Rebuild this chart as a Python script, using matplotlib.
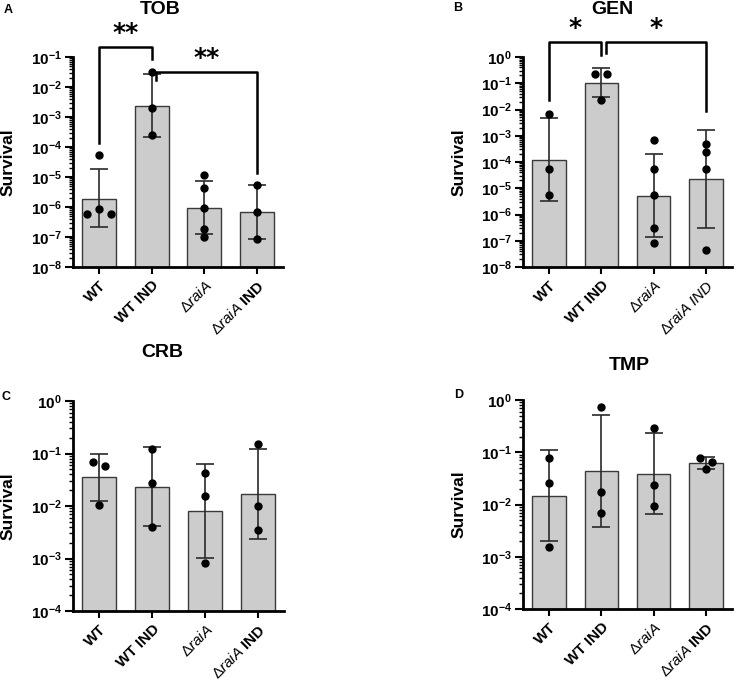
import numpy as np
import matplotlib
matplotlib.use("Agg")
import matplotlib.pyplot as plt
from matplotlib.ticker import LogLocator, FuncFormatter, NullFormatter

plt.rcParams['font.family'] = ['Liberation Sans', 'DejaVu Sans']
plt.rcParams['mathtext.fontset'] = 'custom'
plt.rcParams['mathtext.rm'] = 'Liberation Sans'
plt.rcParams['mathtext.it'] = 'Liberation Sans:italic'
plt.rcParams['mathtext.bf'] = 'Liberation Sans:bold'

# group labels
labels_bold = ['WT', 'WT IND', r'$\mathit{\Delta raiA}$', r'$\mathit{\Delta raiA}$ IND']
labels_ital = ['WT', 'WT IND', r'$\mathit{\Delta raiA}$', r'$\mathit{\Delta raiA\ IND}$']

# TOB (panel A)
tob_mean = [1.9e-6, 2.4e-3, 9.3e-7, 6.7e-7]
tob_lo = [2.1e-7, 2.2e-4, 1.3e-7, 8.9e-8]
tob_hi = [1.8e-5, 2.8e-2, 7.6e-6, 5.5e-6]
tob_pts = [[5.5e-5, 5.9e-7, 8.5e-7, 5.9e-7],
           [3.2e-2, 1.96e-3, 2.6e-4],
           [1.2e-5, 4.2e-6, 9.6e-7, 1.8e-7, 1.0e-7],
           [5.5e-6, 6.7e-7, 8.9e-8]]

# GEN (panel B)
gen_mean = [1.2e-4, 0.10, 5.0e-6, 2.2e-5]
gen_lo = [3.2e-6, 0.029, 1.35e-7, 3.1e-7]
gen_hi = [4.9e-3, 0.39, 2.1e-4, 1.7e-3]
gen_pts = [[7.0e-3, 5.2e-5, 5.3e-6],
           [0.23, 0.23, 0.023],
           [6.6e-4, 5.2e-5, 5.3e-6, 3.0e-7, 8.3e-8],
           [4.9e-4, 2.5e-4, 5.2e-5, 4.3e-8]]

# CRB (panel C)
crb_mean = [0.035, 0.0235, 0.0080, 0.0168]
crb_lo = [0.0122, 0.0042, 0.00104, 0.0024]
crb_hi = [0.099, 0.135, 0.063, 0.123]
crb_pts = [[0.068, 0.059, 0.0105],
           [0.123, 0.028, 0.0039],
           [0.042, 0.0154, 0.00082],
           [0.151, 0.0098, 0.0035]]

# TMP (panel D)
tmp_mean = [0.0144, 0.0434, 0.039, 0.0616]
tmp_lo = [0.00196, 0.0037, 0.0065, 0.048]
tmp_hi = [0.109, 0.52, 0.238, 0.080]
tmp_pts = [[0.077, 0.0256, 0.00155],
           [0.72, 0.0172, 0.0068],
           [0.29, 0.0234, 0.0092],
           [0.077, 0.065, 0.047]]

# significance brackets: (x1, x2, bracket y, left leg end, right leg end, stars, star y)
tob_sig = [(0, 1, 0.21, 1.4e-4, 0.085, '**', 0.63),
           (1.09, 3, 0.0316, 0.0175, 1.4e-5, '**', 0.093)]
gen_sig = [(0, 1, 3.7, 0.023, 1.2, '*', 12.9),
           (1.09, 3, 3.7, 1.4, 8.4e-3, '*', 12.9)]


def swarm_x(ax, i, pts, thresh=5.5, step=12.0):
    # spread points whose pixel heights are nearly equal
    ys = ax.transData.transform(np.column_stack([np.full(len(pts), i), pts]))[:, 1]
    order = np.argsort(ys)
    clusters = [[order[0]]]
    for a, b in zip(order[:-1], order[1:]):
        if ys[b] - ys[a] < thresh:
            clusters[-1].append(b)
        else:
            clusters.append([b])
    ppu = ax.bbox.width / (ax.get_xlim()[1] - ax.get_xlim()[0])
    xs = np.full(len(pts), float(i))
    for c in clusters:
        c = sorted(c)
        n = len(c)
        for k, idx in enumerate(c):
            xs[idx] = i + (k - (n - 1) / 2) * step / ppu
    return xs


def panel(fig, rect, ylim, mean, lo, hi, pts, xlabels):
    ax = fig.add_axes(rect)
    x = np.arange(len(mean))
    ax.set_yscale('log')
    ax.set_ylim(*ylim)
    ax.set_xlim(-0.5, 3.5)
    ax.bar(x, mean, width=0.64, color='#cccccc', edgecolor='#3a3a3a', linewidth=1.0, zorder=2)
    yerr = [np.array(mean) - np.array(lo), np.array(hi) - np.array(mean)]
    ax.errorbar(x, mean, yerr=yerr, fmt='none', ecolor='#2a2a2a', elinewidth=1.2,
                capsize=6.5, capthick=1.2, zorder=3)
    for i, p in enumerate(pts):
        ax.plot(swarm_x(ax, i, p), p, 'o', color='black', markersize=5, zorder=4, clip_on=False)
    for s in ['top', 'right']:
        ax.spines[s].set_visible(False)
    ax.spines['left'].set_linewidth(2)
    ax.spines['bottom'].set_linewidth(2)
    ax.yaxis.set_major_locator(LogLocator(base=10, numticks=20))
    ax.yaxis.set_minor_locator(LogLocator(base=10, subs=np.arange(2, 10), numticks=20))
    ax.yaxis.set_minor_formatter(NullFormatter())
    ax.yaxis.set_major_formatter(FuncFormatter(lambda v, p: r'$\mathbf{10^{%d}}$' % round(np.log10(v))))
    ax.tick_params(axis='y', which='major', length=6, width=1.5, labelsize=11, pad=2)
    ax.tick_params(axis='y', which='minor', length=3, width=1.0)
    ax.tick_params(axis='x', length=5, width=1.5, pad=3)
    ax.set_xticks(x)
    ax.set_xticklabels(xlabels, rotation=45, ha='right', rotation_mode='anchor',
                       fontsize=11, fontweight='bold')
    ax.set_ylabel('Survival', fontsize=12.5, fontweight='bold')
    ax.yaxis.set_label_coords(-0.272, 0.5)
    return ax


def brackets(ax, sig):
    for x1, x2, yb, yl, yr, stars, ys in sig:
        ax.plot([x1, x1, x2, x2], [yl, yb, yb, yr], color='black', lw=1.8, clip_on=False, zorder=5)
        ax.text((x1 + x2) / 2, ys, stars, ha='center', va='center', fontsize=18,
                fontweight='bold', family='DejaVu Sans')


fig = plt.figure(figsize=(7.36, 6.83), dpi=100)
W, H = 736.0, 683.0

axA = panel(fig, [73 / W, (H - 267) / H, 210 / W, 210 / H], (1e-8, 1e-1),
            tob_mean, tob_lo, tob_hi, tob_pts, labels_bold)
axB = panel(fig, [523 / W, (H - 267) / H, 209 / W, 210 / H], (1e-8, 1),
            gen_mean, gen_lo, gen_hi, gen_pts, labels_ital)
axC = panel(fig, [73 / W, (H - 611) / H, 211 / W, 210 / H], (1e-4, 1),
            crb_mean, crb_lo, crb_hi, crb_pts, labels_bold)
axD = panel(fig, [523 / W, (H - 609) / H, 209 / W, 209 / H], (1e-4, 1),
            tmp_mean, tmp_lo, tmp_hi, tmp_pts, labels_bold)

brackets(axA, tob_sig)
brackets(axB, gen_sig)

for ax, title, tx, ty in [(axA, 'TOB', 0.414, 1.224), (axB, 'GEN', 0.426, 1.224),
                          (axC, 'CRB', 0.424, 1.229), (axD, 'TMP', 0.507, 1.167)]:
    ax.text(tx, ty, title, transform=ax.transAxes, ha='center', va='center',
            fontsize=14, fontweight='bold')

for letter, lx, ly in [('A', 8, 10), ('B', 458, 8), ('C', 6, 397), ('D', 459, 395)]:
    fig.text(lx / W, 1 - ly / H, letter, ha='center', va='center', fontsize=9, fontweight='bold')

fig.savefig('out.png', dpi=100)
